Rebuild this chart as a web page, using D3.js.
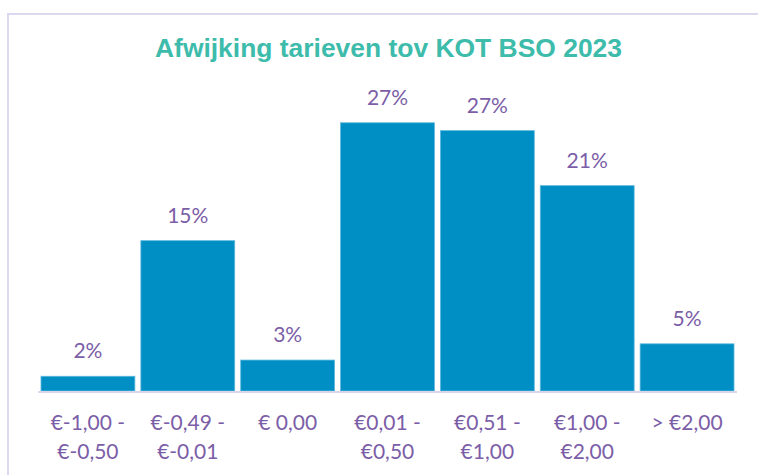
<!DOCTYPE html>
<html>
<head>
<meta charset="utf-8">
<script src="https://cdn.jsdelivr.net/npm/d3@7"></script>
<style>
  html, body { margin: 0; padding: 0; background: #fff; }
  svg { display: block; }
  .bar-label, .cat-label { font-family: Lato, "Open Sans", sans-serif; font-size: 21px; fill: #7b5ea7; }
  .title { font-family: "Liberation Sans", Arial, sans-serif; font-weight: bold; font-size: 25px; fill: #3dbbab; }
</style>
</head>
<body>
<script>
// Data
var categories = [
  ["€-1,00 -", "€-0,50"],
  ["€-0,49 -", "€-0,01"],
  ["€ 0,00"],
  ["€0,01 -", "€0,50"],
  ["€0,51 -", "€1,00"],
  ["€1,00 -", "€2,00"],
  ["> €2,00"]
];
var values = [1.5, 15.3, 3.15, 27.3, 26.5, 20.9, 4.8];
var valueLabels = ["2%", "15%", "3%", "27%", "27%", "21%", "5%"];

var width = 758, height = 475;

var svg = d3.select("body").append("svg")
  .attr("width", width)
  .attr("height", height);

// chart border
svg.append("rect")
  .attr("x", 8)
  .attr("y", 14)
  .attr("width", width + 20)
  .attr("height", height + 20)
  .attr("fill", "none")
  .attr("stroke", "#dcd9ee")
  .attr("stroke-width", 2);

// title
svg.append("text")
  .attr("class", "title")
  .attr("x", 155)
  .attr("y", 57)
  .attr("textLength", 467)
  .attr("lengthAdjust", "spacingAndGlyphs")
  .text("Afwijking tarieven tov KOT BSO 2023");

var baseY = 391;

var x = d3.scaleBand()
  .domain(d3.range(categories.length))
  .range([38, 737])
  .paddingInner(0.06)
  .paddingOuter(0.03);

var y = d3.scaleLinear()
  .domain([0, 30])
  .range([baseY, baseY - 30 * 9.825]);

// bars
svg.selectAll(".bar")
  .data(values)
  .enter().append("rect")
  .attr("class", "bar")
  .attr("x", function(d, i) { return x(i); })
  .attr("y", function(d) { return y(d); })
  .attr("width", x.bandwidth())
  .attr("height", function(d) { return y(0) - y(d); })
  .attr("fill", "#008fc4")
  .attr("stroke", "#5cb9de")
  .attr("stroke-width", 0.8);

// axis line
svg.append("line")
  .attr("x1", 38)
  .attr("x2", 737)
  .attr("y1", baseY + 1)
  .attr("y2", baseY + 1)
  .attr("stroke", "#d9d5ea")
  .attr("stroke-width", 2);

// value labels
svg.selectAll(".bar-label")
  .data(values)
  .enter().append("text")
  .attr("class", "bar-label")
  .attr("text-anchor", "middle")
  .attr("x", function(d, i) { return x(i) + x.bandwidth() / 2; })
  .attr("y", function(d) { return y(d) - 18; })
  .text(function(d, i) { return valueLabels[i]; });

// category labels
var cat = svg.selectAll(".cat-label")
  .data(categories)
  .enter().append("text")
  .attr("class", "cat-label")
  .attr("text-anchor", "middle")
  .attr("x", function(d, i) { return x(i) + x.bandwidth() / 2; })
  .attr("y", 430);

cat.selectAll("tspan")
  .data(function(d) { return d; })
  .enter().append("tspan")
  .attr("x", function() { return d3.select(this.parentNode).attr("x"); })
  .attr("dy", function(d, i) { return i === 0 ? 0 : 29; })
  .text(function(d) { return d; });
</script>
</body>
</html>
